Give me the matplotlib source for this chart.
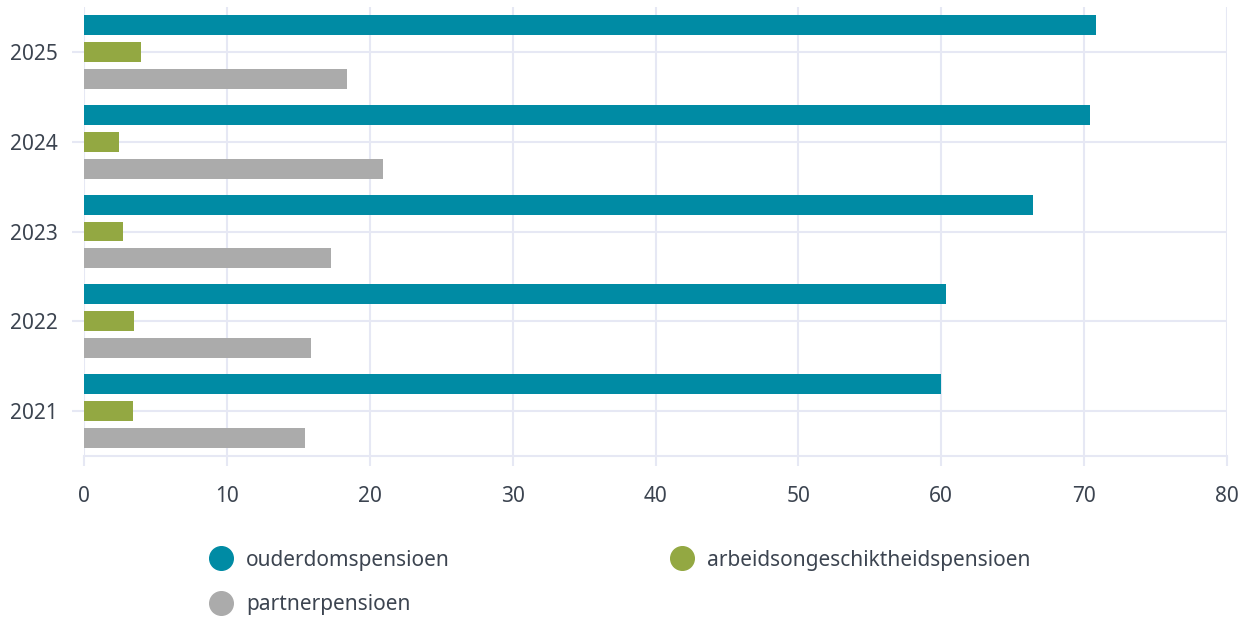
import numpy as np
import matplotlib.pyplot as plt
from matplotlib.lines import Line2D

# Pension data per year (billion euro)
years = ['2021', '2022', '2023', '2024', '2025']
ouderdom = [60.0, 60.3, 66.4, 70.4, 70.8]
arbeidsongeschikt = [3.4, 3.5, 2.7, 2.45, 4.0]
partner = [15.5, 15.9, 17.3, 20.95, 18.4]

series_names = ['ouderdomspensioen', 'arbeidsongeschiktheidspensioen', 'partnerpensioen']
colors = ['#008BA4', '#93A842', '#ABABAB']

text_col = '#3C4450'
grid_col = '#E6E8F4'

plt.rcParams['font.family'] = ['Noto Sans', 'DejaVu Sans']
plt.rcParams['font.size'] = 15

fig = plt.figure(figsize=(12.48, 6.17), dpi=100)
ax = fig.add_axes([84 / 1248, 1 - 456 / 617, (1227 - 84) / 1248, (456 - 7) / 617])

y = np.arange(len(years))
bar_h = 0.222
offset = 0.3
ax.barh(y + offset, ouderdom, height=bar_h, color=colors[0], zorder=3)
ax.barh(y, arbeidsongeschikt, height=bar_h, color=colors[1], zorder=3)
ax.barh(y - offset, partner, height=bar_h, color=colors[2], zorder=3)

ax.set_xlim(0, 80)
ax.set_ylim(-0.5, len(years) - 0.5)
ax.set_xticks(np.arange(0, 81, 10))
ax.set_yticks(y)
ax.set_yticklabels(years)

ax.grid(True, color=grid_col, linewidth=1.5, zorder=0)
for side in ['top', 'right', 'left']:
    ax.spines[side].set_visible(False)
ax.spines['bottom'].set_color(grid_col)
ax.spines['bottom'].set_linewidth(1.5)
ax.tick_params(axis='x', length=7.5, width=1.5, color=grid_col, labelcolor=text_col,
               pad=14, labelsize=15)
ax.tick_params(axis='y', length=9, width=1.5, color=grid_col, labelcolor=text_col,
               pad=10, labelsize=15)

handles = [Line2D([], [], marker='o', linestyle='none', markersize=17,
                  markerfacecolor=c, markeredgecolor=c) for c in colors]
order = [0, 2, 1]
leg = fig.legend([handles[i] for i in order], [series_names[i] for i in order],
                 ncol=2, frameon=False, loc='upper left',
                 bbox_to_anchor=(190 / 1248, 1 - 531 / 617),
                 handletextpad=0.6, columnspacing=10.55, labelspacing=1.12,
                 fontsize=15, labelcolor=text_col, handlelength=1.2)

fig.savefig('out.png', dpi=100)
